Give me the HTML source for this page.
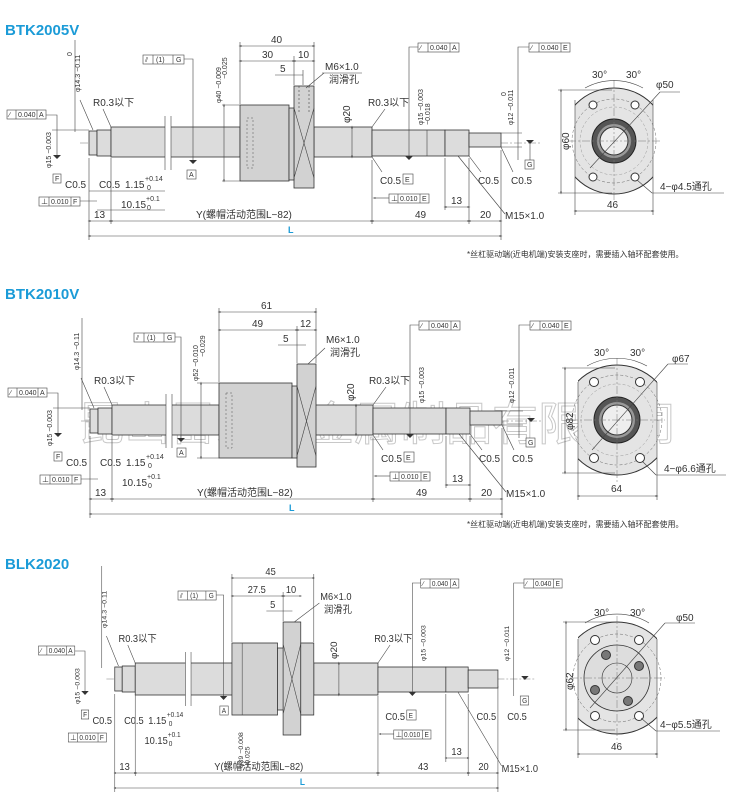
<!DOCTYPE html>
<html><head><meta charset="utf-8"><style>
html,body{margin:0;padding:0;background:#fff}
svg{display:block}
text{font-family:"Liberation Sans","Noto Sans CJK SC",sans-serif;fill:#333;font-size:10px}
.t{font-size:15px;font-weight:bold;fill:#1b9bd7}
.sm{font-size:7px}
.l{stroke:#444;stroke-width:.6;fill:none}
.c{stroke:#777;stroke-width:.5;stroke-dasharray:8 2 2 2;fill:none}
.s{fill:#dcdcdc;stroke:#333;stroke-width:.8}
.n{fill:#d2d2d2;stroke:#333;stroke-width:.8}
.b{fill:#fff;stroke:#444;stroke-width:.6}
.d{stroke:#444;stroke-width:.6;fill:none;marker-start:url(#a);marker-end:url(#a)}
.wm{font-size:46px;fill:none;stroke:#c8c8c8;stroke-width:1}
</style></head><body>
<svg width="743" height="798" viewBox="0 0 743 798" xmlns="http://www.w3.org/2000/svg">
<defs>
<marker id="a" viewBox="0 0 6 6" refX="3" refY="3" markerWidth="5" markerHeight="5" orient="auto-start-reverse"><path d="M0,1.5L6,3L0,4.5z" fill="#333"/></marker>
</defs>

<!-- ============ SECTION 1 ============ -->
<text class="t" x="5" y="35">BTK2005V</text>
<g id="s1">
<line class="c" x1="80" y1="143" x2="540" y2="143"/>
<rect class="s" x="89" y="131" width="8" height="24"/>
<rect class="s" x="97" y="130" width="14" height="26"/>
<rect class="s" x="111" y="127" width="129" height="30"/>
<rect x="165" y="116" width="6" height="54" fill="#fff"/>
<line class="l" x1="165" y1="116" x2="165" y2="170"/><line class="l" x1="171" y1="116" x2="171" y2="170"/>
<rect class="s" x="314" y="127" width="58" height="30"/>
<rect class="s" x="372" y="130" width="73" height="26"/>
<rect class="s" x="445" y="130" width="24" height="26"/>
<rect class="s" x="469" y="133" width="32" height="14"/>
<rect class="b" x="7" y="110" width="39" height="9"/><line class="l" x1="16" y1="110" x2="16" y2="119"/><line class="l" x1="37" y1="110" x2="37" y2="119"/>
<text class="sm" x="9" y="117">∕</text><text class="sm" x="18" y="117">0.040</text><text class="sm" x="39" y="117">A</text>
<polyline class="l" points="46,115 57,115 57,155"/><path d="M53,155h8l-4,4z" fill="#333"/>
<line class="l" x1="52" y1="130" x2="89" y2="130"/>
<text class="sm" transform="translate(51,168) rotate(-90)">φ15 −0.003</text>
<rect class="b" x="53" y="174" width="8" height="9"/><text class="sm" x="55" y="181">F</text>
<text x="65" y="188">C0.5</text><text x="99" y="188">C0.5</text>
<line class="l" x1="75" y1="40" x2="75" y2="132"/>
<text class="sm" transform="translate(80,92) rotate(-90)">φ14.3 −0.11</text>
<text class="sm" transform="translate(72,56) rotate(-90)">0</text>
<line class="l" x1="80" y1="100" x2="93" y2="130"/>
<text x="93" y="106">R0.3以下</text><line class="l" x1="103" y1="109" x2="111" y2="127"/>
<rect class="b" x="143" y="55" width="41" height="9"/><line class="l" x1="153" y1="55" x2="153" y2="64"/><line class="l" x1="173" y1="55" x2="173" y2="64"/>
<text class="sm" x="145" y="62">⫽</text><text class="sm" x="156" y="62">(1)</text><text class="sm" x="176" y="62">G</text>
<polyline class="l" points="184,59 193,59 193,160"/><path d="M189,160h8l-4,4z" fill="#333"/>
<rect class="b" x="187" y="170" width="9" height="9"/><text class="sm" x="189" y="177">A</text>
<text x="125" y="188">1.15</text><text class="sm" x="145" y="181">+0.14</text><text class="sm" x="147" y="190">0</text>
<rect class="b" x="39" y="197" width="41" height="9"/><line class="l" x1="49" y1="197" x2="49" y2="206"/><line class="l" x1="71" y1="197" x2="71" y2="206"/>
<text class="sm" x="41" y="204">⊥</text><text class="sm" x="51" y="204">0.010</text><text class="sm" x="73" y="204">F</text>
<line class="l" x1="80" y1="201" x2="97" y2="201"/>
<text x="121" y="208">10.15</text><text class="sm" x="146" y="201">+0.1</text><text class="sm" x="147" y="210">0</text>
<line class="l" x1="89" y1="191" x2="165" y2="191"/><line class="l" x1="97" y1="210" x2="165" y2="210"/>
<text x="368" y="106">R0.3以下</text><line class="l" x1="385" y1="109" x2="372" y2="127"/>
<rect class="b" x="418" y="43" width="41" height="9"/><line class="l" x1="428" y1="43" x2="428" y2="52"/><line class="l" x1="450" y1="43" x2="450" y2="52"/>
<text class="sm" x="420" y="50">∕</text><text class="sm" x="430" y="50">0.040</text><text class="sm" x="452" y="50">A</text>
<polyline class="l" points="418,47 409,47 409,156"/><path d="M405,156h8l-4,4z" fill="#333"/>
<text class="sm" transform="translate(423,125) rotate(-90)">φ15 −0.003</text>
<text class="sm" transform="translate(430,125) rotate(-90)">     −0.018</text>
<line class="l" x1="427" y1="130" x2="427" y2="156"/>
<rect class="b" x="529" y="43" width="41" height="9"/><line class="l" x1="539" y1="43" x2="539" y2="52"/><line class="l" x1="561" y1="43" x2="561" y2="52"/>
<text class="sm" x="531" y="50">∕</text><text class="sm" x="541" y="50">0.040</text><text class="sm" x="563" y="50">E</text>
<polyline class="l" points="529,47 518,47 518,160"/>
<text class="sm" transform="translate(513,125) rotate(-90)">φ12 −0.011</text>
<text class="sm" transform="translate(506,96) rotate(-90)">0</text>
<line class="l" x1="501" y1="133" x2="522" y2="133"/><line class="l" x1="501" y1="147" x2="522" y2="147"/>
<path d="M526,140h8l-4,4z" fill="#333"/><line class="l" x1="530" y1="143" x2="530" y2="160"/>
<rect class="b" x="525" y="160" width="9" height="9"/><text class="sm" x="527" y="167">G</text>
<text x="380" y="184">C0.5</text><rect class="b" x="403" y="174" width="10" height="10"/><text class="sm" x="405" y="182">E</text>
<line class="l" x1="372" y1="157" x2="382" y2="172"/>
<rect class="b" x="389" y="194" width="40" height="9"/><line class="l" x1="398" y1="194" x2="398" y2="203"/><line class="l" x1="420" y1="194" x2="420" y2="203"/>
<text class="sm" x="391" y="201">⊥</text><text class="sm" x="400" y="201">0.010</text><text class="sm" x="422" y="201">E</text>
<line class="l" x1="374" y1="198" x2="389" y2="198" marker-start="url(#a)"/>
<text x="478" y="184">C0.5</text><text x="511" y="184">C0.5</text>
<line class="l" x1="469" y1="156" x2="481" y2="172"/><line class="l" x1="501" y1="147" x2="513" y2="172"/>
<line class="l" x1="445" y1="158" x2="445" y2="210"/>
<line class="d" x1="445" y1="207" x2="469" y2="207"/><text x="451" y="204">13</text>
<line class="l" x1="458" y1="156" x2="505" y2="214"/><text x="505" y="219">M15×1.0</text>
<line class="l" x1="89" y1="158" x2="89" y2="240"/><line class="l" x1="111" y1="158" x2="111" y2="224"/>
<line class="l" x1="372" y1="160" x2="372" y2="224"/><line class="l" x1="469" y1="158" x2="469" y2="224"/>
<line class="l" x1="501" y1="150" x2="501" y2="240"/>
<line class="d" x1="89" y1="221" x2="111" y2="221"/><line class="d" x1="111" y1="221" x2="372" y2="221"/>
<line class="d" x1="372" y1="221" x2="469" y2="221"/><line class="d" x1="469" y1="221" x2="501" y2="221"/>
<text x="94" y="218">13</text><text x="196" y="218">Y(螺帽活动范围L−82)</text>
<text x="415" y="218">49</text><text x="480" y="218">20</text>
<line class="d" x1="89" y1="236" x2="501" y2="236"/>
<text x="288" y="233" style="fill:#1b9bd7;font-weight:bold;font-size:9px">L</text>
</g>
<rect class="n" x="240" y="105" width="49" height="76"/>
<rect x="247" y="118" width="6" height="50" fill="none" stroke="#555" stroke-width=".5" stroke-dasharray="2 2"/>
<rect class="n" x="294" y="86" width="20" height="102"/>
<rect class="n" x="289" y="108" width="5" height="72"/>
<path class="l" d="M294,108L314,178M314,108L294,178"/>
<line class="l" x1="299" y1="86" x2="299" y2="112" stroke-dasharray="2 2"/><line class="l" x1="309" y1="86" x2="309" y2="112" stroke-dasharray="2 2"/>
<line class="l" x1="240" y1="42" x2="240" y2="104"/><line class="l" x1="314" y1="42" x2="314" y2="85"/><line class="l" x1="294" y1="56" x2="294" y2="85"/>
<line class="l" x1="303" y1="70" x2="303" y2="85"/>
<line class="d" x1="240" y1="46" x2="314" y2="46"/><text x="271" y="43">40</text>
<line class="d" x1="240" y1="61" x2="294" y2="61"/><text x="262" y="58">30</text>
<line class="d" x1="294" y1="61" x2="314" y2="61"/><text x="298" y="58">10</text>
<line class="l" x1="275" y1="75" x2="303" y2="75"/><text x="280" y="72">5</text>
<text x="325" y="70">M6×1.0</text><text x="329" y="83">润滑孔</text><line class="l" x1="306" y1="88" x2="324" y2="73"/><line class="l" x1="322" y1="73" x2="362" y2="73"/>
<line class="l" x1="222" y1="105" x2="240" y2="105"/><line class="l" x1="222" y1="181" x2="240" y2="181"/><line class="d" x1="224" y1="105" x2="224" y2="181"/>
<text class="sm" transform="translate(221,103) rotate(-90)">φ40 −0.009</text><text class="sm" transform="translate(227,79) rotate(-90)">−0.025</text>
<line class="d" x1="352" y1="127" x2="352" y2="157"/><text transform="translate(350,123) rotate(-90)">φ20</text>
<g id="rv1">
<clipPath id="cp1"><rect x="575" y="80" width="78" height="120"/></clipPath>
<circle cx="614" cy="141" r="53" fill="#e4e4e4" stroke="#333" stroke-width="1" clip-path="url(#cp1)"/>
<line class="l" x1="575" y1="100" x2="575" y2="182"/><line class="l" x1="653" y1="100" x2="653" y2="182"/>
<circle cx="614" cy="141" r="42" fill="none" stroke="#666" stroke-width=".5" stroke-dasharray="3 2"/>
<circle cx="614" cy="141" r="34" fill="none" stroke="#999" stroke-width=".5" stroke-dasharray="3 2"/>
<circle cx="614" cy="141" r="22" fill="#555" stroke="#222"/>
<circle cx="614" cy="141" r="17" fill="#999"/>
<circle cx="614" cy="141" r="14" fill="#eee" stroke="#333"/>
<circle cx="593" cy="105" r="4" fill="#fff" stroke="#333"/><circle cx="635" cy="105" r="4" fill="#fff" stroke="#333"/>
<circle cx="593" cy="177" r="4" fill="#fff" stroke="#333"/><circle cx="635" cy="177" r="4" fill="#fff" stroke="#333"/>
<line class="c" x1="568" y1="141" x2="660" y2="141"/><line class="c" x1="614" y1="80" x2="614" y2="200"/>
<line class="l" x1="590" y1="168" x2="660" y2="92"/><line class="l" x1="660" y1="92" x2="680" y2="92"/>
<path class="l" d="M585,88A60,60 0 0 1 643,88"/>
<text x="592" y="78">30°</text><text x="626" y="78">30°</text><text x="656" y="88">φ50</text>
<line class="l" x1="558" y1="90" x2="612" y2="90"/><line class="l" x1="558" y1="193" x2="612" y2="193"/>
<line class="d" x1="561" y1="90" x2="561" y2="193"/><text transform="translate(569,150) rotate(-90)">φ60</text>
<line class="l" x1="575" y1="182" x2="575" y2="215"/><line class="l" x1="653" y1="182" x2="653" y2="215"/>
<line class="d" x1="575" y1="211" x2="653" y2="211"/><text x="607" y="208">46</text>
<line class="l" x1="637" y1="180" x2="652" y2="193"/><line class="l" x1="652" y1="193" x2="724" y2="193"/>
<text x="660" y="190">4−φ4.5通孔</text>
</g>
<text class="sm" x="467" y="257" style="font-size:8px">*丝杠驱动端(近电机端)安装支座时，需要插入轴环配套使用。</text>

<!-- ============ SECTION 2 ============ -->
<text class="t" x="5" y="299">BTK2010V</text>
<text class="wm" x="78" y="440">昆山雷恩斯金属制品有限公司</text>
<g transform="translate(1,278)">
<line class="c" x1="80" y1="143" x2="540" y2="143"/>
<rect class="s" x="89" y="131" width="8" height="24"/>
<rect class="s" x="97" y="130" width="14" height="26"/>
<rect class="s" x="111" y="127" width="107" height="30"/>
<rect x="165" y="116" width="6" height="54" fill="#fff"/>
<line class="l" x1="165" y1="116" x2="165" y2="170"/><line class="l" x1="171" y1="116" x2="171" y2="170"/>
<rect class="s" x="314" y="127" width="58" height="30"/>
<rect class="s" x="372" y="130" width="73" height="26"/>
<rect class="s" x="445" y="130" width="24" height="26"/>
<rect class="s" x="469" y="133" width="32" height="14"/>
<rect class="b" x="7" y="110" width="39" height="9"/><line class="l" x1="16" y1="110" x2="16" y2="119"/><line class="l" x1="37" y1="110" x2="37" y2="119"/>
<text class="sm" x="9" y="117">∕</text><text class="sm" x="18" y="117">0.040</text><text class="sm" x="39" y="117">A</text>
<polyline class="l" points="46,115 57,115 57,155"/><path d="M53,155h8l-4,4z" fill="#333"/>
<line class="l" x1="52" y1="130" x2="89" y2="130"/>
<text class="sm" transform="translate(51,168) rotate(-90)">φ15 −0.003</text>
<rect class="b" x="53" y="174" width="8" height="9"/><text class="sm" x="55" y="181">F</text>
<text x="65" y="188">C0.5</text><text x="99" y="188">C0.5</text>
<line class="l" x1="81" y1="40" x2="81" y2="132"/>
<text class="sm" transform="translate(78,92) rotate(-90)">φ14.3 −0.11</text>
<line class="l" x1="80" y1="100" x2="93" y2="130"/>
<text x="93" y="106">R0.3以下</text><line class="l" x1="103" y1="109" x2="111" y2="127"/>
<rect class="b" x="133" y="55" width="41" height="9"/><line class="l" x1="143" y1="55" x2="143" y2="64"/><line class="l" x1="163" y1="55" x2="163" y2="64"/>
<text class="sm" x="135" y="62">⫽</text><text class="sm" x="146" y="62">(1)</text><text class="sm" x="166" y="62">G</text>
<polyline class="l" points="174,59 180,59 180,160"/><path d="M176,160h8l-4,4z" fill="#333"/>
<rect class="b" x="176" y="170" width="9" height="9"/><text class="sm" x="178" y="177">A</text>
<text x="125" y="188">1.15</text><text class="sm" x="145" y="181">+0.14</text><text class="sm" x="147" y="190">0</text>
<rect class="b" x="39" y="197" width="41" height="9"/><line class="l" x1="49" y1="197" x2="49" y2="206"/><line class="l" x1="71" y1="197" x2="71" y2="206"/>
<text class="sm" x="41" y="204">⊥</text><text class="sm" x="51" y="204">0.010</text><text class="sm" x="73" y="204">F</text>
<line class="l" x1="80" y1="201" x2="97" y2="201"/>
<text x="121" y="208">10.15</text><text class="sm" x="146" y="201">+0.1</text><text class="sm" x="147" y="210">0</text>
<text x="368" y="106">R0.3以下</text><line class="l" x1="385" y1="109" x2="372" y2="127"/>
<rect class="b" x="418" y="43" width="41" height="9"/><line class="l" x1="428" y1="43" x2="428" y2="52"/><line class="l" x1="450" y1="43" x2="450" y2="52"/>
<text class="sm" x="420" y="50">∕</text><text class="sm" x="430" y="50">0.040</text><text class="sm" x="452" y="50">A</text>
<polyline class="l" points="418,47 409,47 409,156"/><path d="M405,156h8l-4,4z" fill="#333"/>
<text class="sm" transform="translate(423,125) rotate(-90)">φ15 −0.003</text>
<rect class="b" x="529" y="43" width="41" height="9"/><line class="l" x1="539" y1="43" x2="539" y2="52"/><line class="l" x1="561" y1="43" x2="561" y2="52"/>
<text class="sm" x="531" y="50">∕</text><text class="sm" x="541" y="50">0.040</text><text class="sm" x="563" y="50">E</text>
<polyline class="l" points="529,47 518,47 518,160"/>
<text class="sm" transform="translate(513,125) rotate(-90)">φ12 −0.011</text>
<line class="l" x1="501" y1="133" x2="522" y2="133"/><line class="l" x1="501" y1="147" x2="522" y2="147"/>
<path d="M526,140h8l-4,4z" fill="#333"/>
<rect class="b" x="525" y="160" width="9" height="9"/><text class="sm" x="527" y="167">G</text>
<text x="380" y="184">C0.5</text><rect class="b" x="403" y="174" width="10" height="10"/><text class="sm" x="405" y="182">E</text>
<line class="l" x1="372" y1="157" x2="382" y2="172"/>
<rect class="b" x="389" y="194" width="40" height="9"/><line class="l" x1="398" y1="194" x2="398" y2="203"/><line class="l" x1="420" y1="194" x2="420" y2="203"/>
<text class="sm" x="391" y="201">⊥</text><text class="sm" x="400" y="201">0.010</text><text class="sm" x="422" y="201">E</text>
<line class="l" x1="374" y1="198" x2="389" y2="198" marker-start="url(#a)"/>
<text x="478" y="184">C0.5</text><text x="511" y="184">C0.5</text>
<line class="l" x1="469" y1="156" x2="481" y2="172"/><line class="l" x1="501" y1="147" x2="513" y2="172"/>
<line class="l" x1="445" y1="158" x2="445" y2="210"/>
<line class="d" x1="445" y1="207" x2="469" y2="207"/><text x="451" y="204">13</text>
<line class="l" x1="458" y1="156" x2="505" y2="214"/><text x="505" y="219">M15×1.0</text>
<line class="l" x1="89" y1="158" x2="89" y2="240"/><line class="l" x1="111" y1="158" x2="111" y2="224"/>
<line class="l" x1="372" y1="160" x2="372" y2="224"/><line class="l" x1="469" y1="158" x2="469" y2="224"/>
<line class="l" x1="501" y1="150" x2="501" y2="240"/>
<line class="d" x1="89" y1="221" x2="111" y2="221"/><line class="d" x1="111" y1="221" x2="372" y2="221"/>
<line class="d" x1="372" y1="221" x2="469" y2="221"/><line class="d" x1="469" y1="221" x2="501" y2="221"/>
<text x="94" y="218">13</text><text x="196" y="218">Y(螺帽活动范围L−82)</text>
<text x="415" y="218">49</text><text x="480" y="218">20</text>
<line class="d" x1="89" y1="236" x2="501" y2="236"/>
<text x="288" y="233" style="fill:#1b9bd7;font-weight:bold;font-size:9px">L</text>
<rect class="n" x="218" y="105" width="73" height="75"/>
<rect x="225" y="115" width="6" height="55" fill="none" stroke="#555" stroke-width=".5" stroke-dasharray="2 2"/>
<rect class="n" x="296" y="86" width="19" height="103"/>
<rect class="n" x="291" y="108" width="5" height="72"/>
<path class="l" d="M296,108L315,178M315,108L296,178"/>
<line class="l" x1="218" y1="30" x2="218" y2="104"/><line class="l" x1="315" y1="30" x2="315" y2="85"/><line class="l" x1="296" y1="48" x2="296" y2="85"/>
<line class="d" x1="218" y1="34" x2="315" y2="34"/><text x="260" y="31">61</text>
<line class="d" x1="218" y1="52" x2="296" y2="52"/><text x="251" y="49">49</text>
<line class="d" x1="296" y1="52" x2="315" y2="52"/><text x="299" y="49">12</text>
<line class="l" x1="277" y1="67" x2="305" y2="67"/><text x="282" y="64">5</text>
<text x="325" y="65">M6×1.0</text><text x="329" y="78">润滑孔</text><line class="l" x1="307" y1="86" x2="324" y2="70"/>
<line class="l" x1="196" y1="105" x2="218" y2="105"/><line class="l" x1="196" y1="180" x2="218" y2="180"/><line class="d" x1="200" y1="105" x2="200" y2="180"/>
<text class="sm" transform="translate(197,103) rotate(-90)">φ52 −0.010</text><text class="sm" transform="translate(204,79) rotate(-90)">−0.029</text>
<line class="d" x1="355" y1="127" x2="355" y2="157"/><text transform="translate(353,123) rotate(-90)">φ20</text>
</g>
<g transform="translate(0,278)">
<clipPath id="cp2"><rect x="578" y="85" width="79" height="115"/></clipPath>
<circle cx="617" cy="142" r="55" fill="#e4e4e4" stroke="#333" stroke-width="1" clip-path="url(#cp2)"/>
<line class="l" x1="578" y1="104" x2="578" y2="181"/><line class="l" x1="657" y1="104" x2="657" y2="181"/>
<circle cx="617" cy="142" r="45" fill="none" stroke="#666" stroke-width=".5" stroke-dasharray="3 2"/>
<circle cx="617" cy="142" r="36" fill="none" stroke="#999" stroke-width=".5" stroke-dasharray="3 2"/>
<circle cx="617" cy="142" r="23" fill="#555" stroke="#222"/>
<circle cx="617" cy="142" r="18" fill="#999"/>
<circle cx="617" cy="142" r="15" fill="#eee" stroke="#333"/>
<circle cx="594" cy="104" r="4.5" fill="#fff" stroke="#333"/><circle cx="640" cy="104" r="4.5" fill="#fff" stroke="#333"/>
<circle cx="594" cy="180" r="4.5" fill="#fff" stroke="#333"/><circle cx="640" cy="180" r="4.5" fill="#fff" stroke="#333"/>
<line class="c" x1="570" y1="142" x2="665" y2="142"/><line class="c" x1="617" y1="80" x2="617" y2="205"/>
<line class="l" x1="592" y1="172" x2="668" y2="86"/><line class="l" x1="668" y1="86" x2="688" y2="86"/>
<path class="l" d="M587,88A62,62 0 0 1 647,88"/>
<text x="594" y="78">30°</text><text x="630" y="78">30°</text><text x="672" y="84">φ67</text>
<line class="l" x1="562" y1="90" x2="615" y2="90"/><line class="l" x1="562" y1="195" x2="615" y2="195"/>
<line class="d" x1="565" y1="90" x2="565" y2="195"/><text transform="translate(573,152) rotate(-90)">φ82</text>
<line class="l" x1="578" y1="181" x2="578" y2="222"/><line class="l" x1="657" y1="181" x2="657" y2="222"/>
<line class="d" x1="578" y1="218" x2="657" y2="218"/><text x="611" y="214">64</text>
<line class="l" x1="642" y1="183" x2="656" y2="197"/><line class="l" x1="656" y1="197" x2="726" y2="197"/>
<text x="664" y="194">4−φ6.6通孔</text>
</g>
<text class="sm" x="467" y="527" style="font-size:8px">*丝杠驱动端(近电机端)安装支座时，需要插入轴环配套使用。</text>

<!-- ============ SECTION 3 ============ -->
<text class="t" x="5" y="569">BLK2020</text>
<g transform="translate(32,536) scale(0.93,1)">
<line class="c" x1="80" y1="143" x2="540" y2="143"/>
<rect class="s" x="89" y="131" width="8" height="24"/>
<rect class="s" x="97" y="130" width="14" height="26"/>
<rect class="s" x="111" y="127" width="107" height="32"/>
<rect x="165" y="116" width="6" height="54" fill="#fff"/>
<line class="l" x1="165" y1="116" x2="165" y2="170"/><line class="l" x1="171" y1="116" x2="171" y2="170"/>
<rect class="s" x="303" y="127" width="69" height="32"/>
<rect class="s" x="372" y="131" width="73" height="25"/>
<rect class="s" x="445" y="131" width="24" height="25"/>
<rect class="s" x="469" y="134" width="32" height="18"/>
<rect class="b" x="7" y="110" width="39" height="9"/><line class="l" x1="16" y1="110" x2="16" y2="119"/><line class="l" x1="37" y1="110" x2="37" y2="119"/>
<text class="sm" x="9" y="117">∕</text><text class="sm" x="18" y="117">0.040</text><text class="sm" x="39" y="117">A</text>
<polyline class="l" points="46,115 57,115 57,155"/><path d="M53,155h8l-4,4z" fill="#333"/>
<text class="sm" transform="translate(51,168) rotate(-90)">φ15 −0.003</text>
<rect class="b" x="53" y="174" width="8" height="9"/><text class="sm" x="55" y="181">F</text>
<text x="65" y="188">C0.5</text><text x="99" y="188">C0.5</text>
<line class="l" x1="75" y1="30" x2="75" y2="132"/>
<text class="sm" transform="translate(80,92) rotate(-90)">φ14.3 −0.11</text>
<line class="l" x1="80" y1="100" x2="93" y2="130"/>
<text x="93" y="106">R0.3以下</text><line class="l" x1="103" y1="109" x2="111" y2="127"/>
<rect class="b" x="157" y="55" width="41" height="9"/><line class="l" x1="167" y1="55" x2="167" y2="64"/><line class="l" x1="187" y1="55" x2="187" y2="64"/>
<text class="sm" x="159" y="62">⫽</text><text class="sm" x="170" y="62">(1)</text><text class="sm" x="190" y="62">G</text>
<polyline class="l" points="198,59 206,59 206,160"/><path d="M202,160h8l-4,4z" fill="#333"/>
<rect class="b" x="202" y="170" width="9" height="9"/><text class="sm" x="204" y="177">A</text>
<text x="125" y="188">1.15</text><text class="sm" x="145" y="181">+0.14</text><text class="sm" x="147" y="190">0</text>
<rect class="b" x="39" y="197" width="41" height="9"/><line class="l" x1="49" y1="197" x2="49" y2="206"/><line class="l" x1="71" y1="197" x2="71" y2="206"/>
<text class="sm" x="41" y="204">⊥</text><text class="sm" x="51" y="204">0.010</text><text class="sm" x="73" y="204">F</text>
<text x="121" y="208">10.15</text><text class="sm" x="146" y="201">+0.1</text><text class="sm" x="147" y="210">0</text>
<text x="368" y="106">R0.3以下</text><line class="l" x1="385" y1="109" x2="372" y2="127"/>
<rect class="b" x="418" y="43" width="41" height="9"/><line class="l" x1="428" y1="43" x2="428" y2="52"/><line class="l" x1="450" y1="43" x2="450" y2="52"/>
<text class="sm" x="420" y="50">∕</text><text class="sm" x="430" y="50">0.040</text><text class="sm" x="452" y="50">A</text>
<polyline class="l" points="418,47 409,47 409,156"/><path d="M405,156h8l-4,4z" fill="#333"/>
<text class="sm" transform="translate(423,125) rotate(-90)">φ15 −0.003</text>
<rect class="b" x="529" y="43" width="41" height="9"/><line class="l" x1="539" y1="43" x2="539" y2="52"/><line class="l" x1="561" y1="43" x2="561" y2="52"/>
<text class="sm" x="531" y="50">∕</text><text class="sm" x="541" y="50">0.040</text><text class="sm" x="563" y="50">E</text>
<polyline class="l" points="529,47 518,47 518,160"/>
<text class="sm" transform="translate(513,125) rotate(-90)">φ12 −0.011</text>
<path d="M526,140h8l-4,4z" fill="#333"/>
<rect class="b" x="525" y="160" width="9" height="9"/><text class="sm" x="527" y="167">G</text>
<text x="380" y="184">C0.5</text><rect class="b" x="403" y="174" width="10" height="10"/><text class="sm" x="405" y="182">E</text>
<rect class="b" x="389" y="194" width="40" height="9"/><line class="l" x1="398" y1="194" x2="398" y2="203"/><line class="l" x1="420" y1="194" x2="420" y2="203"/>
<text class="sm" x="391" y="201">⊥</text><text class="sm" x="400" y="201">0.010</text><text class="sm" x="422" y="201">E</text>
<line class="l" x1="374" y1="198" x2="389" y2="198" marker-start="url(#a)"/>
<text x="478" y="184">C0.5</text><text x="511" y="184">C0.5</text>
<line class="l" x1="445" y1="158" x2="445" y2="226"/>
<line class="d" x1="445" y1="222" x2="469" y2="222"/><text x="451" y="219">13</text>
<line class="l" x1="458" y1="156" x2="505" y2="230"/>
<g transform="translate(0,16)">
<text x="505" y="220">M15×1.0</text>
<line class="l" x1="89" y1="142" x2="89" y2="240"/><line class="l" x1="111" y1="142" x2="111" y2="224"/>
<line class="l" x1="372" y1="144" x2="372" y2="224"/><line class="l" x1="469" y1="142" x2="469" y2="224"/>
<line class="l" x1="501" y1="134" x2="501" y2="240"/>
<line class="d" x1="89" y1="221" x2="111" y2="221"/><line class="d" x1="111" y1="221" x2="372" y2="221"/>
<line class="d" x1="372" y1="221" x2="469" y2="221"/><line class="d" x1="469" y1="221" x2="501" y2="221"/>
<text x="94" y="218">13</text><text x="196" y="218">Y(螺帽活动范围L−82)</text>
<text x="415" y="218">43</text><text x="480" y="218">20</text>
<line class="d" x1="89" y1="236" x2="501" y2="236"/>
<text x="288" y="233" style="fill:#1b9bd7;font-weight:bold;font-size:9px">L</text>
</g>
<rect class="n" x="215" y="107" width="49" height="72"/>
<line class="l" x1="226" y1="107" x2="226" y2="179"/>
<rect class="n" x="270" y="86" width="19" height="113"/>
<rect class="n" x="264" y="112" width="6" height="62"/>
<rect class="n" x="289" y="107" width="14" height="72"/>
<path class="l" d="M270,108L289,178M289,108L270,178"/>
<line class="l" x1="215" y1="38" x2="215" y2="106"/><line class="l" x1="303" y1="38" x2="303" y2="106"/><line class="l" x1="270" y1="56" x2="270" y2="85"/>
<line class="d" x1="215" y1="42" x2="303" y2="42"/><text x="251" y="39">45</text>
<line class="d" x1="215" y1="60" x2="270" y2="60"/><text x="232" y="57">27.5</text>
<line class="d" x1="270" y1="60" x2="289" y2="60"/><text x="273" y="57">10</text>
<line class="l" x1="252" y1="75" x2="280" y2="75"/><text x="256" y="72">5</text>
<text x="310" y="64">M6×1.0</text><text x="314" y="77">润滑孔</text><line class="l" x1="282" y1="86" x2="309" y2="67"/>
<text class="sm" transform="translate(227,232) rotate(-90)">φ39 −0.008</text><text class="sm" transform="translate(234,232) rotate(-90)">−0.025</text>
<line class="d" x1="330" y1="127" x2="330" y2="159"/><text transform="translate(328,123) rotate(-90)">φ20</text>
</g>
<g transform="translate(0,538)">
<clipPath id="cp3"><rect x="578" y="80" width="79" height="120"/></clipPath>
<circle cx="617" cy="140" r="56" fill="#e4e4e4" stroke="#333" stroke-width="1" clip-path="url(#cp3)"/>
<line class="l" x1="578" y1="101" x2="578" y2="180"/><line class="l" x1="657" y1="101" x2="657" y2="180"/>
<circle cx="617" cy="140" r="44" fill="none" stroke="#666" stroke-width=".5" stroke-dasharray="3 2"/>
<circle cx="617" cy="140" r="33" fill="#ddd" stroke="#333" stroke-width=".8"/>
<circle cx="617" cy="140" r="15" fill="#ddd" stroke="#333" stroke-width=".6"/>
<circle cx="595" cy="102" r="4.5" fill="#fff" stroke="#333"/><circle cx="639" cy="102" r="4.5" fill="#fff" stroke="#333"/>
<circle cx="595" cy="178" r="4.5" fill="#fff" stroke="#333"/><circle cx="639" cy="178" r="4.5" fill="#fff" stroke="#333"/>
<circle cx="606" cy="117" r="4.5" fill="#777" stroke="#333"/><circle cx="639" cy="128" r="4.5" fill="#777" stroke="#333"/>
<circle cx="595" cy="152" r="4.5" fill="#777" stroke="#333"/><circle cx="628" cy="163" r="4.5" fill="#777" stroke="#333"/>
<line class="c" x1="570" y1="140" x2="665" y2="140"/><line class="c" x1="617" y1="78" x2="617" y2="205"/>
<line class="l" x1="590" y1="170" x2="665" y2="85"/><line class="l" x1="665" y1="85" x2="695" y2="85"/>
<path class="l" d="M585,85A62,62 0 0 1 649,85"/>
<text x="594" y="78">30°</text><text x="630" y="78">30°</text><text x="676" y="83">φ50</text>
<line class="l" x1="563" y1="84" x2="615" y2="84"/><line class="l" x1="563" y1="192" x2="615" y2="192"/>
<line class="d" x1="566" y1="84" x2="566" y2="192"/><text transform="translate(573,152) rotate(-90)">φ62</text>
<line class="l" x1="578" y1="180" x2="578" y2="220"/><line class="l" x1="657" y1="180" x2="657" y2="220"/>
<line class="d" x1="578" y1="216" x2="657" y2="216"/><text x="611" y="212">46</text>
<line class="l" x1="641" y1="180" x2="656" y2="193"/><line class="l" x1="656" y1="193" x2="720" y2="193"/>
<text x="660" y="190">4−φ5.5通孔</text>
</g>
</svg>
</body></html>
